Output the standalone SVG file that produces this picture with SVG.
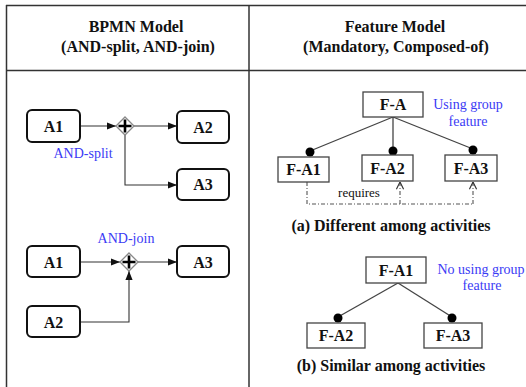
<svg xmlns="http://www.w3.org/2000/svg" width="526" height="387" viewBox="0 0 526 387">
<defs>
<style>
.grid{stroke:#333;stroke-width:1.5;fill:none}
.hdr{font-family:"Liberation Serif","Times New Roman",serif;font-weight:bold;font-size:16px;fill:#111;text-anchor:middle}
.lbl{font-family:"Liberation Serif","Times New Roman",serif;font-weight:bold;font-size:16px;fill:#111;text-anchor:middle}
.blue{font-family:"Liberation Serif","Times New Roman",serif;font-size:14px;fill:#3b3bf5;text-anchor:middle}
.task{fill:#fff;stroke:#111;stroke-width:2}
.feat{fill:#fff;stroke:#444;stroke-width:1.3}
.flow{stroke:#333;stroke-width:1.1;fill:none}
.tree{stroke:#444;stroke-width:1.3;fill:none}
.req{stroke:#555;stroke-width:1.1;fill:none;stroke-dasharray:4 2 1 2}
.gw{fill:#fff;stroke:#888;stroke-width:1.3}
.plus{stroke:#000;stroke-width:2.6}
</style>
<marker id="ah" viewBox="0 0 10 10" refX="10" refY="5" markerWidth="9" markerHeight="9" markerUnits="userSpaceOnUse" orient="auto">
<path d="M0,1 L10,5 L0,9 z" fill="#111"/>
</marker>
<marker id="oh" viewBox="0 0 10 10" refX="10" refY="5" markerWidth="9" markerHeight="9" markerUnits="userSpaceOnUse" orient="auto">
<path d="M2,1 L10,5 L2,9" fill="none" stroke="#333" stroke-width="1.3"/>
</marker>
</defs>
<rect width="526" height="387" fill="#fff"/>

<g id="table">
<line class="grid" x1="6" y1="5.5" x2="526" y2="5.5"/>
<line class="grid" x1="6" y1="70.5" x2="526" y2="70.5"/>
<line class="grid" x1="6.5" y1="5" x2="6.5" y2="387"/>
<line class="grid" x1="249" y1="5" x2="249" y2="387"/>
<text class="hdr" x="136" y="32">BPMN Model</text>
<text class="hdr" x="138" y="52">(AND-split, AND-join)</text>
<text class="hdr" x="395" y="32">Feature Model</text>
<text class="hdr" x="396" y="52">(Mandatory, Composed-of)</text>
</g>

<g id="connectors">
<line class="flow" x1="80" y1="126" x2="116" y2="126" marker-end="url(#ah)"/>
<line class="flow" x1="134" y1="126" x2="177" y2="126" marker-end="url(#ah)"/>
<polyline class="flow" points="125,135 125,185 177,185" marker-end="url(#ah)"/>
<line class="flow" x1="80" y1="262" x2="120" y2="262" marker-end="url(#ah)"/>
<line class="flow" x1="138" y1="262" x2="177" y2="262" marker-end="url(#ah)"/>
<polyline class="flow" points="80,322 129,322 129,271" marker-end="url(#ah)"/>
<line class="tree" x1="393" y1="117" x2="310" y2="151"/>
<line class="tree" x1="393" y1="117" x2="393" y2="151"/>
<line class="tree" x1="393" y1="117" x2="473" y2="149"/>
<line class="tree" x1="398" y1="283" x2="338" y2="317"/>
<line class="tree" x1="398" y1="283" x2="452" y2="317"/>
<polyline class="req" points="307,182 307,204 473,204"/>
<line class="req" x1="400" y1="204" x2="400" y2="182" marker-end="url(#oh)"/>
<line class="req" x1="473" y1="204" x2="473" y2="182" marker-end="url(#oh)"/>
<g fill="#000">
<circle cx="310" cy="152" r="4.5"/>
<circle cx="393" cy="151" r="4.5"/>
<circle cx="473" cy="150" r="4.5"/>
<circle cx="338" cy="318" r="4.5"/>
<circle cx="452" cy="318" r="4.5"/>
</g>
</g>

<g id="split-A1"><rect class="task" x="27" y="110" width="53" height="32" rx="5"/><text class="lbl" x="53.5" y="132">A1</text></g>
<g id="split-gateway"><path class="gw" d="M125,117 L134,126 L125,135 L116,126 z"/><path class="plus" d="M125,119.5 V132.5 M118.5,126 H131.5"/></g>
<text class="blue" x="83" y="158">AND-split</text>
<g id="split-A2"><rect class="task" x="177" y="111" width="52" height="32" rx="5"/><text class="lbl" x="203" y="133">A2</text></g>
<g id="split-A3"><rect class="task" x="177" y="169" width="52" height="31" rx="5"/><text class="lbl" x="203" y="190">A3</text></g>

<text class="blue" x="126" y="243">AND-join</text>
<g id="join-A1"><rect class="task" x="27" y="246" width="53" height="31" rx="5"/><text class="lbl" x="53.5" y="267.5">A1</text></g>
<g id="join-gateway"><path class="gw" d="M129,253 L138,262 L129,271 L120,262 z"/><path class="plus" d="M129,255.5 V268.5 M122.5,262 H135.5"/></g>
<g id="join-A3"><rect class="task" x="177" y="246" width="52" height="31" rx="5"/><text class="lbl" x="203" y="267.5">A3</text></g>
<g id="join-A2"><rect class="task" x="27" y="306" width="53" height="31" rx="5"/><text class="lbl" x="53.5" y="327.5">A2</text></g>

<g id="FA"><rect class="feat" x="363" y="92" width="60" height="25"/><text class="lbl" x="393" y="110">F-A</text></g>
<text class="blue" x="468" y="109">Using group</text>
<text class="blue" x="468" y="126">feature</text>
<g id="FA1a"><rect class="feat" x="278" y="157" width="51" height="25"/><text class="lbl" x="303.5" y="175">F-A1</text></g>
<g id="FA2a"><rect class="feat" x="362" y="155" width="51" height="26"/><text class="lbl" x="387.5" y="174">F-A2</text></g>
<g id="FA3a"><rect class="feat" x="445" y="155" width="52" height="26"/><text class="lbl" x="471" y="174">F-A3</text></g>
<text x="359" y="197" font-family="Liberation Serif,Times New Roman,serif" font-size="13" fill="#111" text-anchor="middle">requires</text>
<text class="hdr" x="391" y="231">(a) Different among activities</text>

<g id="FA1b"><rect class="feat" x="366" y="257" width="60" height="26"/><text class="lbl" x="396" y="276">F-A1</text></g>
<text class="blue" x="481" y="274">No using group</text>
<text class="blue" x="482" y="290">feature</text>
<g id="FA2b"><rect class="feat" x="307" y="323" width="58" height="25"/><text class="lbl" x="336" y="341">F-A2</text></g>
<g id="FA3b"><rect class="feat" x="424" y="323" width="58" height="25"/><text class="lbl" x="453" y="341">F-A3</text></g>
<text class="hdr" x="391" y="371">(b) Similar among activities</text>
</svg>
